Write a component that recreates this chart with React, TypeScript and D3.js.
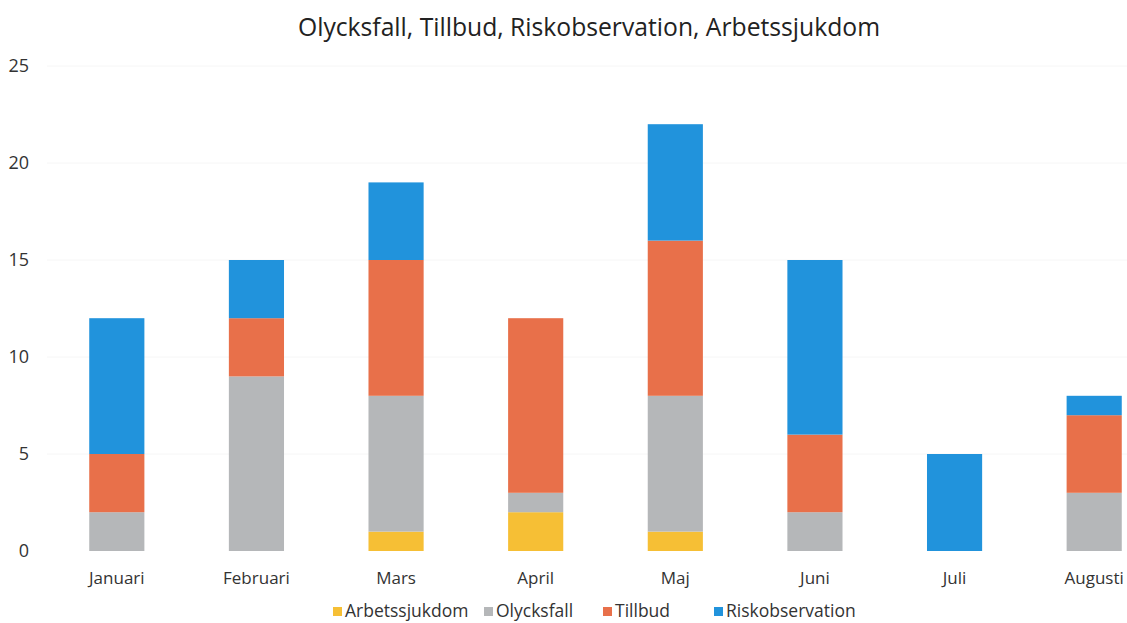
import { useEffect, useRef } from "react";
import * as d3 from "d3";

const months = ["Januari", "Februari", "Mars", "April", "Maj", "Juni", "Juli", "Augusti"];
const seriesNames = ["Arbetssjukdom", "Olycksfall", "Tillbud", "Riskobservation"];
const arbetssjukdom = [0, 0, 1, 2, 1, 0, 0, 0];
const olycksfall = [2, 9, 7, 1, 7, 2, 0, 3];
const tillbud = [3, 3, 7, 9, 8, 4, 0, 4];
const riskobservation = [7, 3, 4, 0, 6, 9, 5, 1];
const yTicks = [0, 5, 10, 15, 20, 25];
const colors = ["#f6bf35", "#b5b7b9", "#e8704a", "#2193dc"];

const W = 1127;
const H = 623;
const FONT = "'Open Sans', 'Liberation Sans', sans-serif";

export default function App() {
  const ref = useRef<SVGSVGElement>(null);

  useEffect(() => {
    const svg = d3.select(ref.current);
    svg.selectAll("*").remove();

    const rows = months.map((m, i) => ({
      month: m,
      Arbetssjukdom: arbetssjukdom[i],
      Olycksfall: olycksfall[i],
      Tillbud: tillbud[i],
      Riskobservation: riskobservation[i],
    }));

    const x = d3.scaleBand().domain(months).range([47, 1164]).paddingInner(0.605).paddingOuter(0.3025);
    const y = d3.scaleLinear().domain([0, 25]).range([551, 66]);
    const color = d3.scaleOrdinal<string, string>().domain(seriesNames).range(colors);

    svg
      .append("text")
      .attr("x", 589)
      .attr("y", 36)
      .attr("text-anchor", "middle")
      .attr("font-family", FONT)
      .attr("font-size", 24.7)
      .attr("fill", "#222")
      .text("Olycksfall, Tillbud, Riskobservation, Arbetssjukdom");

    svg
      .selectAll("line.grid")
      .data(yTicks.slice(1))
      .join("line")
      .attr("class", "grid")
      .attr("x1", 47)
      .attr("x2", W)
      .attr("y1", (d) => y(d))
      .attr("y2", (d) => y(d))
      .attr("stroke", "#f6f6f6")
      .attr("stroke-width", 1);

    svg
      .selectAll("text.ytick")
      .data(yTicks)
      .join("text")
      .attr("class", "ytick")
      .attr("x", 29)
      .attr("y", (d) => y(d) + 6)
      .attr("text-anchor", "end")
      .attr("font-family", FONT)
      .attr("font-size", 18)
      .attr("fill", "#333")
      .text((d) => d);

    const stack = d3.stack<any>().keys(seriesNames)(rows);

    svg
      .selectAll("g.series")
      .data(stack)
      .join("g")
      .attr("class", "series")
      .attr("fill", (s) => color(s.key))
      .selectAll("rect")
      .data((s) => s.filter((d) => d[1] > d[0]))
      .join("rect")
      .attr("x", (d) => x(d.data.month) ?? 0)
      .attr("y", (d) => y(d[1]))
      .attr("width", x.bandwidth())
      .attr("height", (d) => y(d[0]) - y(d[1]));

    svg
      .selectAll("text.xtick")
      .data(months)
      .join("text")
      .attr("class", "xtick")
      .attr("x", (m) => (x(m) ?? 0) + x.bandwidth() / 2)
      .attr("y", 584)
      .attr("text-anchor", "middle")
      .attr("font-family", FONT)
      .attr("font-size", 17)
      .attr("fill", "#333")
      .text((m) => m);

    const legendX = [333, 484, 603, 714];
    const legend = svg
      .selectAll("g.legend")
      .data(seriesNames)
      .join("g")
      .attr("class", "legend")
      .attr("transform", (_, i) => `translate(${legendX[i]},617)`);
    legend
      .append("rect")
      .attr("x", 0)
      .attr("y", -10)
      .attr("width", 9)
      .attr("height", 9)
      .attr("fill", (d) => color(d));
    legend
      .append("text")
      .attr("x", 12)
      .attr("y", 0)
      .attr("font-family", FONT)
      .attr("font-size", 17.5)
      .attr("fill", "#333")
      .text((d) => d);
  }, []);

  return (
    <svg
      ref={ref}
      width={W}
      height={H}
      style={{ position: "absolute", left: 0, top: 0, display: "block", background: "#fff" }}
    />
  );
}
